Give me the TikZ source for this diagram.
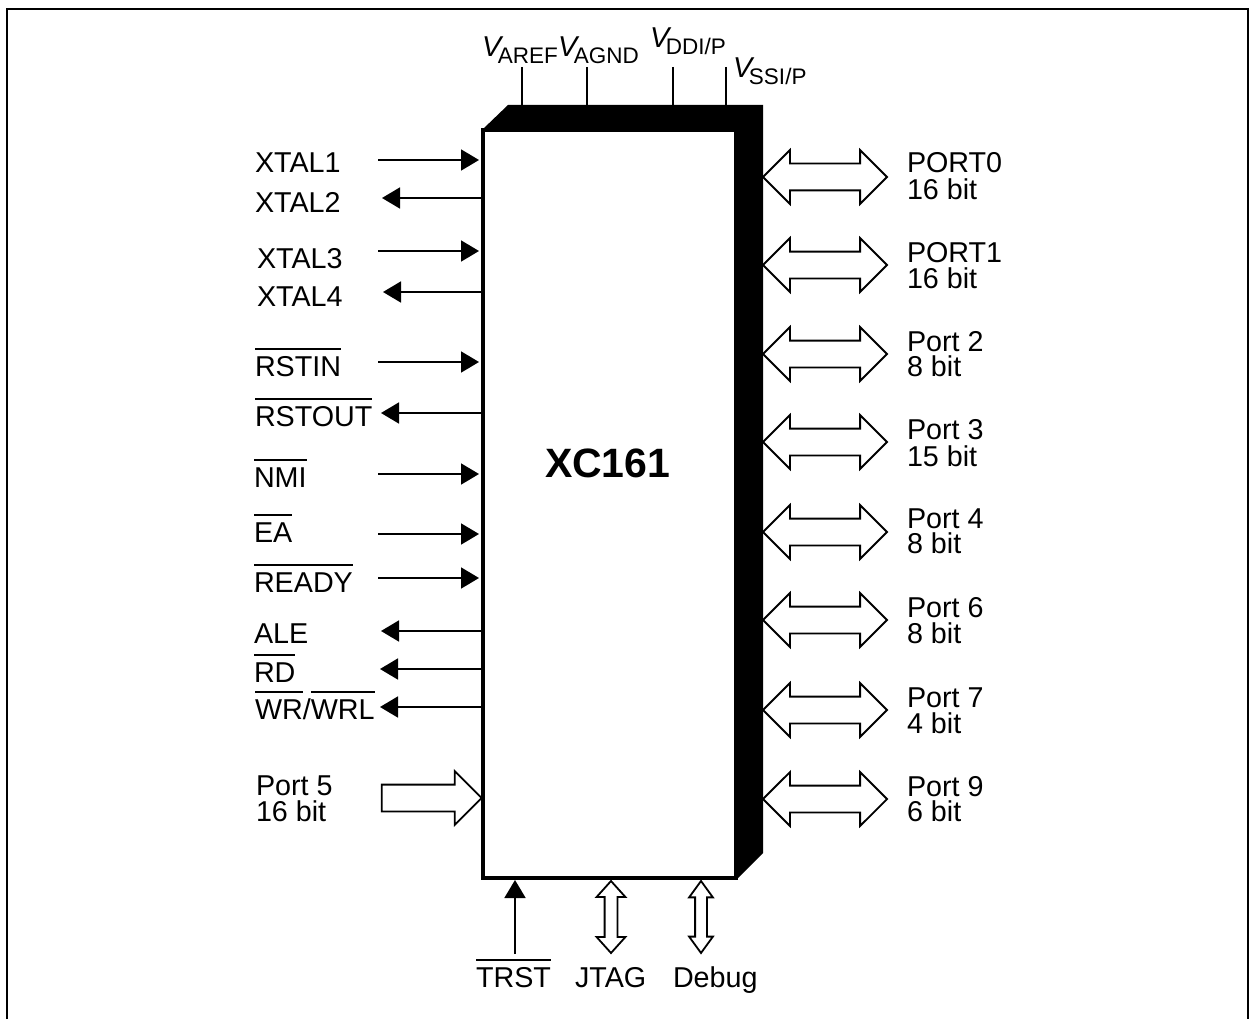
\documentclass[tikz,border=0pt]{standalone}
\usepackage{fontspec}
\setmainfont{Liberation Sans}
\usetikzlibrary{arrows.meta,shapes.arrows}
\newcommand\ovr[1]{\leavevmode\setbox0=\hbox{#1}\rlap{\raisebox{26.2pt}{\rule{\wd0}{1.8pt}}}\box0}
\newcommand\vsym[1]{\textit{V}\kern-5.4pt\raisebox{-6.5pt}{\fontsize{22.5}{22.5}\selectfont #1}}
\newcommand\shaft[1]{\rule{0pt}{#1}}
\tikzset{
  lbl/.style={anchor=base west,inner sep=0pt,outer sep=0pt,font=\fontsize{28.7}{28.7}\selectfont},
  title/.style={anchor=base west,inner sep=0pt,outer sep=0pt,font=\fontsize{41}{41}\selectfont\bfseries},
  pinline/.style={line width=1.8pt,draw=black},
  sigarrow/.style={pinline,-{Triangle[length=18pt,width=21pt,inset=0pt,sep=0pt]}},
  busr/.style={draw=black,fill=white,line width=1.8pt,double arrow,minimum height=124pt,
     double arrow head extend=13.5pt,double arrow tip angle=90,inner sep=0pt,outer sep=0pt},
  busin/.style={draw=black,fill=white,line width=1.8pt,single arrow,minimum height=100pt,
     single arrow head extend=13.5pt,single arrow tip angle=90,inner sep=0pt,outer sep=0pt},
  jtagbus/.style={draw=black,fill=white,line width=1.8pt,double arrow,rotate=90,minimum height=72pt,
     double arrow head extend=8pt,double arrow tip angle=84,inner sep=0pt,outer sep=0pt},
  dbgbus/.style={jtagbus,double arrow head extend=6pt,double arrow tip angle=72},
  chipbox/.style={draw=black,fill=white,line width=4pt,rectangle,minimum width=253pt,minimum height=748pt,inner sep=0pt,outer sep=0pt}
}
\begin{document}
\begin{tikzpicture}[x=1pt,y=-1pt]
\useasboundingbox (0,0) rectangle (1249,1019);
\draw[line width=2pt] (7,1019) -- (7,9) -- (1248,9) -- (1248,1019);
% shadow and chip
\fill[black] (483,129) -- (508,105) -- (763,105) -- (763,853) -- (737,879) -- cycle;
\node[chipbox] (chip) at (609.5,504) {};
\node[title] (name) at (545,477) {XC161};
% supply pins
\node[lbl] (varef) at (482,57) {\vsym{AREF}};
\node[lbl] (vagnd) at (558,57) {\vsym{AGND}};
\node[lbl] (vddi) at (650,48) {\vsym{DDI/P}};
\node[lbl] (vssi) at (733,78) {\vsym{SSI/P}};
\foreach \n/\x in {a/522,b/587,c/673,d/726}{
  \coordinate (top\n) at (\x,67);
  \coordinate (bot\n) at (\x,106);
  \draw[pinline] (top\n) -- (bot\n);
}
% left labels
\node[lbl] (xt1) at (255,173) {XTAL1};
\node[lbl] (xt2) at (255,212) {XTAL2};
\node[lbl] (xt3) at (257,268) {XTAL3};
\node[lbl] (xt4) at (257,306) {XTAL4};
\node[lbl] (rstin) at (255,376) {\ovr{RSTIN}};
\node[lbl] (rstout) at (255,426) {\ovr{RSTOUT}};
\node[lbl] (nmi) at (254,487) {\ovr{NMI}};
\node[lbl] (ea) at (254,542) {\ovr{EA}};
\node[lbl] (ready) at (254,592) {\ovr{READY}};
\node[lbl] (ale) at (254,643) {ALE};
\node[lbl] (rd) at (254,682) {\ovr{RD}};
\node[lbl] (wr) at (255,719) {\ovr{WR}/\ovr{WRL}};
\node[lbl] (p5a) at (256,795) {Port 5};
\node[lbl] (p5b) at (256,821) {16 bit};
% input arrows
\foreach \n/\y in {i1/160,i2/251,i3/362,i4/474,i5/534,i6/578}{
  \coordinate (\n s) at (378,\y);
  \coordinate (\n e) at (479,\y);
  \draw[sigarrow] (\n s) -- (\n e);
}
% output arrows
\foreach \n/\y/\x in {o1/198/382,o2/292/383,o3/413/381,o4/631/381,o5/669/380,o6/707/380}{
  \coordinate (\n s) at (481,\y);
  \coordinate (\n e) at (\x,\y);
  \draw[sigarrow] (\n s) -- (\n e);
}
% port 5 bus
\node[busin] (p5) at (425,798) {\shaft{25pt}};
% right buses and labels
\foreach \n/\y in {r0/177,r1/265,r2/354,r3/442,r4/532,r6/620,r7/710,r9/799}{
  \node[busr] (\n) at (825,\y) {\shaft{25pt}};
}
\node[lbl] (l0a) at (907,173) {PORT0};
\node[lbl] (l0b) at (907,199) {16 bit};
\node[lbl] (l1a) at (907,262) {PORT1};
\node[lbl] (l1b) at (907,288) {16 bit};
\node[lbl] (l2a) at (907,351) {Port 2};
\node[lbl] (l2b) at (907,376) {8 bit};
\node[lbl] (l3a) at (907,439) {Port 3};
\node[lbl] (l3b) at (907,466) {15 bit};
\node[lbl] (l4a) at (907,528) {Port 4};
\node[lbl] (l4b) at (907,553) {8 bit};
\node[lbl] (l6a) at (907,617) {Port 6};
\node[lbl] (l6b) at (907,643) {8 bit};
\node[lbl] (l7a) at (907,707) {Port 7};
\node[lbl] (l7b) at (907,733) {4 bit};
\node[lbl] (l9a) at (907,796) {Port 9};
\node[lbl] (l9b) at (907,821) {6 bit};
% bottom
\coordinate (trsts) at (515,954);
\coordinate (trste) at (515,880);
\draw[sigarrow] (trsts) -- (trste);
\node[jtagbus] (jt) at (611,917) {\shaft{11pt}};
\node[dbgbus] (db) at (701,917) {\shaft{10pt}};
\node[lbl] (trst) at (476,987) {\ovr{TRST}};
\node[lbl] (jtag) at (575,987) {JTAG};
\node[lbl] (debug) at (673,987) {Debug};
\end{tikzpicture}
\end{document}
